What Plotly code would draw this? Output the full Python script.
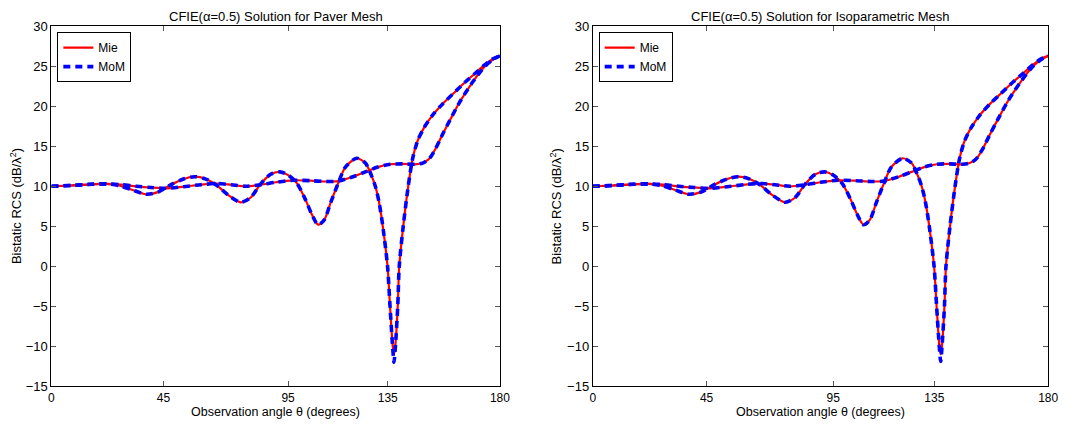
import plotly.graph_objects as go

# ---------------- data ----------------
x_ticks = [0, 45, 95, 135, 180]

# Oscillating cut (E-plane like)
theta_e = [0, 8, 16, 22, 27, 32, 38, 43, 48, 53, 57.5, 62, 66, 71, 76, 80, 84, 88, 91.7,
           95, 98.5, 102, 104.5, 107, 109.5, 112, 115, 118, 122.5, 126, 128.5, 130, 131.5,
           133, 134.9, 135.9, 137.0, 137.5, 138.0, 139.0, 139.6, 141.2, 143.2, 145, 147,
           149.5, 153, 157, 161, 166, 170, 174, 177, 180]
mie_e = [10.0, 10.1, 10.25, 10.3, 10.1, 9.6, 9.0, 9.3, 10.2, 10.9, 11.2, 10.9, 10.2, 8.9,
         8.0, 8.6, 10.3, 11.5, 11.8, 11.4, 10.4, 8.3, 6.5, 5.2, 5.8, 7.9, 10.3, 12.4, 13.5,
         12.9, 11.3, 10.0, 8.0, 5.0, 0.0, -5.0, -10.0, -11.0, -10.0, -5.0, 0.0, 5.0, 10.0,
         13.5, 15.7, 17.3, 18.9, 20.3, 21.5, 23.0, 24.1, 25.2, 25.9, 26.3]
mom_e_paver = [10.0, 10.1, 10.25, 10.3, 10.1, 9.6, 9.0, 9.3, 10.2, 10.9, 11.2, 10.9, 10.2, 8.9,
               8.0, 8.6, 10.3, 11.5, 11.8, 11.4, 10.4, 8.3, 6.5, 5.2, 5.8, 7.9, 10.3, 12.4, 13.5,
               12.9, 11.3, 10.0, 8.0, 5.0, 0.0, -5.0, -10.3, -12.0, -10.3, -5.0, 0.0, 5.0, 10.0,
               13.5, 15.7, 17.3, 18.9, 20.3, 21.5, 23.0, 24.1, 25.2, 25.9, 26.3]
mom_e_iso = [10.0, 10.1, 10.25, 10.3, 10.1, 9.6, 9.0, 9.3, 10.2, 10.9, 11.2, 10.9, 10.2, 8.9,
             8.0, 8.6, 10.3, 11.5, 11.8, 11.4, 10.4, 8.3, 6.5, 5.2, 5.8, 7.9, 10.3, 12.4, 13.5,
             12.9, 11.3, 10.0, 8.0, 5.0, 0.0, -5.0, -10.2, -11.9, -10.2, -5.0, 0.0, 5.0, 10.0,
             13.5, 15.7, 17.3, 18.9, 20.3, 21.5, 23.0, 24.1, 25.2, 25.9, 26.3]

# Smooth cut (H-plane like)
theta_h = [0, 8, 16, 22, 28, 34, 40, 46, 53, 60, 66, 72, 78, 84, 90, 97, 104, 110, 115,
           121, 126, 131, 136, 141, 146, 149, 151.5, 154, 157, 160, 164, 169, 174, 177.5, 180]
mie_h = [10.0, 10.1, 10.25, 10.3, 10.2, 10.0, 9.85, 9.75, 9.95, 10.2, 10.35, 10.2, 10.0,
         10.2, 10.5, 10.75, 10.7, 10.6, 10.65, 11.2, 11.8, 12.4, 12.75, 12.8, 12.75, 12.9,
         13.4, 14.6, 16.5, 18.3, 20.6, 23.0, 25.0, 25.9, 26.3]
mom_h = [10.0, 10.1, 10.25, 10.3, 10.2, 10.0, 9.85, 9.75, 9.95, 10.2, 10.35, 10.2, 10.0,
         10.2, 10.5, 10.75, 10.7, 10.6, 10.65, 11.2, 11.8, 12.4, 12.75, 12.8, 12.75, 12.9,
         13.4, 14.6, 16.5, 18.3, 20.6, 23.0, 25.0, 25.9, 26.3]

titles = ["CFIE(α=0.5) Solution for Paver Mesh",
          "CFIE(α=0.5) Solution for Isoparametric Mesh"]
x_title = "Observation angle θ (degrees)"
y_title = "Bistatic RCS (dB/λ<sup>2</sup>)"

# ---------------- figure ----------------
W, H = 1073, 429
FONT = "Liberation Sans, Arial, Helvetica, sans-serif"
RED = "#ff0000"
BLUE = "#0000ff"

panels = [
    dict(xa="x", ya="y", legend="legend", mom_e=mom_e_paver, x0=49, x1=503, ytx=13),
    dict(xa="x2", ya="y2", legend="legend2", mom_e=mom_e_iso, x0=597, x1=1058, ytx=560),
]
y_top, y_bot = 20, 393
legend_top = 26

fig = go.Figure()
for p in panels:
    fig.add_trace(go.Scatter(x=theta_e, y=mie_e, mode="lines", name="Mie",
                             line=dict(color=RED, width=2.2, shape="spline", smoothing=0.8),
                             xaxis=p["xa"], yaxis=p["ya"], legend=p["legend"],
                             legendgroup="mie" + p["xa"], showlegend=True))
    fig.add_trace(go.Scatter(x=theta_h, y=mie_h, mode="lines", name="Mie",
                             line=dict(color=RED, width=2.2, shape="spline", smoothing=0.8),
                             xaxis=p["xa"], yaxis=p["ya"], legend=p["legend"],
                             legendgroup="mie" + p["xa"], showlegend=False))
    fig.add_trace(go.Scatter(x=theta_e, y=p["mom_e"], mode="lines", name="MoM",
                             line=dict(color=BLUE, width=3.6, dash="7px,5px",
                                       shape="spline", smoothing=0.8),
                             xaxis=p["xa"], yaxis=p["ya"], legend=p["legend"],
                             legendgroup="mom" + p["xa"], showlegend=True))
    fig.add_trace(go.Scatter(x=theta_h, y=mom_h, mode="lines", name="MoM",
                             line=dict(color=BLUE, width=3.6, dash="7px,5px",
                                       shape="spline", smoothing=0.8),
                             xaxis=p["xa"], yaxis=p["ya"], legend=p["legend"],
                             legendgroup="mom" + p["xa"], showlegend=False))

axis_common = dict(showline=True, linecolor="black", linewidth=1, mirror="ticks",
                   ticks="inside", ticklen=5, tickcolor="#555", showgrid=False,
                   zeroline=False)

layout = dict(width=W, height=H, autosize=False, margin=dict(l=0, r=0, t=0, b=0),
              paper_bgcolor="white", plot_bgcolor="white",
              font=dict(family=FONT, size=12, color="black"))

annotations = []
for i, p in enumerate(panels):
    suf = "" if i == 0 else "2"
    layout["xaxis" + suf] = dict(axis_common, range=[0, 180], tickvals=x_ticks,
                                 tickfont=dict(family=FONT, size=12, color="black"),
                                 domain=[p["x0"] / W, p["x1"] / W], anchor="y" + suf)
    layout["yaxis" + suf] = dict(axis_common, range=[-15, 30], dtick=5, tick0=0,
                                 tickfont=dict(family=FONT, size=13, color="black"),
                                 domain=[1 - y_bot / H, 1 - y_top / H], anchor="x" + suf)
    layout[p["legend"]] = dict(x=(p["x0"] + 6) / W, y=1 - legend_top / H, xanchor="left",
                               yanchor="top", bgcolor="white", bordercolor="black",
                               borderwidth=1, font=dict(family=FONT, size=12),
                               itemwidth=30, tracegroupgap=0)
    xc = (p["x0"] + p["x1"]) / 2 / W
    annotations.append(dict(text=titles[i], x=xc, y=1.0, xref="paper",
                            yref="paper", xanchor="center", yanchor="top", showarrow=False,
                            font=dict(family=FONT, size=13)))
    annotations.append(dict(text=x_title, x=xc, y=0.0, xref="paper",
                            yref="paper", xanchor="center", yanchor="bottom",
                            showarrow=False, font=dict(family=FONT, size=12.5)))
    annotations.append(dict(text=y_title, x=p["ytx"] / W,
                            y=1 - (y_top + y_bot) / 2 / H, xref="paper", yref="paper",
                            xanchor="center", yanchor="middle", textangle=-90,
                            showarrow=False, font=dict(family=FONT, size=13)))
layout["annotations"] = annotations
fig.update_layout(**layout)

post = ("document.documentElement.style.margin='0';"
        "document.body.style.margin='0';"
        "document.body.style.overflow='hidden';")
fig.write_html("out.html", config={"displayModeBar": False}, post_script=post)
